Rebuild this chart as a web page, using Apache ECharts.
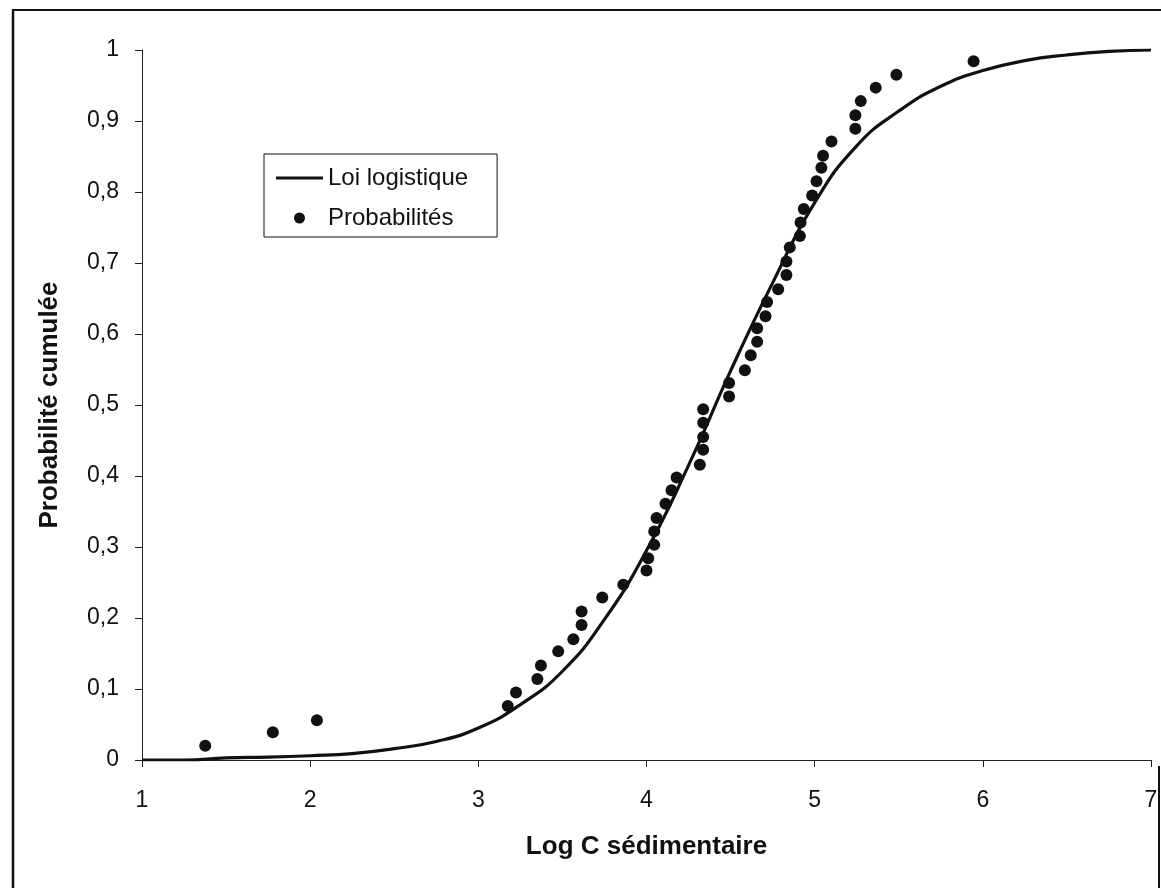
<!DOCTYPE html>
<html>
<head>
<meta charset="utf-8">
<script src="https://cdn.jsdelivr.net/npm/echarts@6/dist/echarts.min.js"></script>
<style>
  html, body { margin: 0; padding: 0; background: #fff; }
  #chart { width: 1161px; height: 888px; }
</style>
</head>
<body>
<div id="chart"></div>
<script>
// points
const probX = [1.376, 1.778, 2.040, 3.175, 3.224, 3.351, 3.372, 3.475, 3.565, 3.614,
  3.614, 3.737, 3.862, 4.000, 4.010, 4.046, 4.046, 4.060, 4.113, 4.149,
  4.179, 4.317, 4.337, 4.337, 4.337, 4.337, 4.491, 4.491, 4.585, 4.620,
  4.658, 4.658, 4.708, 4.717, 4.783, 4.832, 4.832, 4.852, 4.912, 4.916,
  4.935, 4.985, 5.011, 5.040, 5.050, 5.100, 5.242, 5.242, 5.274, 5.363,
  5.486, 5.945];
const probY = [0.020, 0.039, 0.056, 0.076, 0.095, 0.114, 0.133, 0.153, 0.170, 0.190,
  0.209, 0.229, 0.247, 0.267, 0.284, 0.303, 0.322, 0.341, 0.361, 0.380,
  0.398, 0.416, 0.437, 0.455, 0.475, 0.494, 0.512, 0.531, 0.549, 0.570,
  0.589, 0.608, 0.625, 0.645, 0.663, 0.683, 0.702, 0.722, 0.738, 0.757,
  0.776, 0.795, 0.815, 0.834, 0.851, 0.871, 0.889, 0.908, 0.928, 0.947,
  0.965, 0.984];

// logistic curve
const curveX = [1.00, 1.25, 1.50, 1.75, 2.00, 2.25, 2.50, 2.75, 3.00, 3.25, 3.50, 3.75,
  4.00, 4.25, 4.50, 4.75, 5.00, 5.25, 5.50, 5.75, 6.00, 6.25, 6.50, 6.75, 7.00];
const curveY = [0.000, 0.000, 0.003, 0.004, 0.006, 0.009, 0.016, 0.026, 0.045, 0.078, 0.125, 0.198,
  0.295, 0.415, 0.548, 0.672, 0.785, 0.865, 0.914, 0.949, 0.971, 0.985, 0.993, 0.998, 1.000];

const font = "'Liberation Sans', Arial, sans-serif";

const chart = echarts.init(document.getElementById("chart"));

chart.setOption({
  backgroundColor: "#fff",
  animation: false,
  textStyle: { fontFamily: font },
  grid: {
    left: 142,
    right: 10,
    top: 50,
    bottom: 128,
  },
  legend: {
    orient: "vertical",
    left: 264,
    top: 154,
    padding: [12, 29, 7, 12],
    borderColor: "#111",
    borderWidth: 1,
    itemWidth: 47,
    itemHeight: 11,
    itemGap: 16,
    textStyle: { fontSize: 24, color: "#111", fontFamily: font },
    data: [
      { name: "Loi logistique", icon: "path://M0 0H47V3H0Z" },
      { name: "Probabilités", icon: "circle" },
    ],
  },
  xAxis: {
    type: "value",
    min: 1,
    max: 7,
    interval: 1,
    name: "Log C sédimentaire",
    nameLocation: "middle",
    nameGap: 74,
    nameTextStyle: { fontSize: 26, fontWeight: "bold", color: "#111", fontFamily: font },
    axisLine: { show: true, lineStyle: { color: "#222", width: 1 } },
    axisTick: { show: true, length: 7, lineStyle: { color: "#222" } },
    axisLabel: { fontSize: 23, color: "#111", margin: 29, fontFamily: font },
    splitLine: { show: false },
  },
  yAxis: {
    type: "value",
    min: 0,
    max: 1,
    interval: 0.1,
    name: "Probabilité cumulée",
    nameLocation: "middle",
    nameGap: 79,
    nameTextStyle: { fontSize: 26, fontWeight: "bold", color: "#111", fontFamily: font },
    axisLine: { show: true, lineStyle: { color: "#222", width: 1 } },
    axisTick: { show: true, length: 7, lineStyle: { color: "#222" } },
    axisLabel: {
      fontSize: 23,
      color: "#111",
      margin: 23,
      fontFamily: font,
      formatter: function (v) {
        return String(Math.round(v * 10) / 10).replace(".", ",");
      },
    },
    splitLine: { show: false },
  },
  series: [
    {
      name: "Loi logistique",
      type: "line",
      smooth: true,
      symbol: "none",
      lineStyle: { color: "#111", width: 3.2 },
      itemStyle: { color: "#111" },
      data: curveX.map((x, i) => [x, curveY[i]]),
      z: 2,
    },
    {
      name: "Probabilités",
      type: "scatter",
      symbol: "circle",
      symbolSize: 12,
      itemStyle: { color: "#111", opacity: 1 },
      data: probX.map((x, i) => [x, probY[i]]),
      z: 3,
    },
  ],
  graphic: [
    // frame around the figure
    { type: "line", shape: { x1: 12, y1: 10, x2: 1161, y2: 10 }, style: { stroke: "#111", lineWidth: 2 } },
    { type: "line", shape: { x1: 13, y1: 10, x2: 13, y2: 888 }, style: { stroke: "#111", lineWidth: 2.5 } },
    { type: "line", shape: { x1: 1159, y1: 766, x2: 1159, y2: 888 }, style: { stroke: "#111", lineWidth: 2 } },
  ],
});
</script>
</body>
</html>
